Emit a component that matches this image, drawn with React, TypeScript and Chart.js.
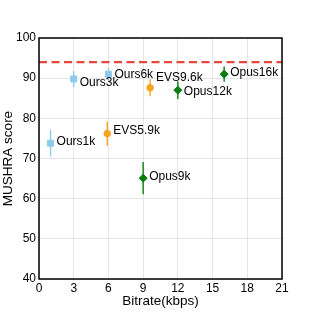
import React, { useEffect, useRef } from "react";
import { Chart, registerables } from "chart.js";

Chart.register(...registerables);

const oursX = [1, 3, 6];
const oursY = [73.8, 89.8, 91.0];
const oursErr = [3.3, 2.0, 1.6];
const oursLabels = ["Ours1k", "Ours3k", "Ours6k"];

const evsX = [5.9, 9.6];
const evsY = [76.2, 87.6];
const evsErr = [3.0, 2.1];
const evsLabels = ["EVS5.9k", "EVS9.6k"];

const opusX = [9, 12, 16];
const opusY = [65.1, 87.0, 91.0];
const opusErr = [4.0, 2.2, 1.9];
const opusLabels = ["Opus9k", "Opus12k", "Opus16k"];

const referenceY = 94;
const xTicks = [0, 3, 6, 9, 12, 15, 18, 21];
const yTicks = [40, 50, 60, 70, 80, 90, 100];

const FONT = "'Liberation Sans', Arial, sans-serif";

// label vertical nudges in pixels (style, not data)
const labelNudge: Record<string, number> = {
  Ours1k: -2,
  Ours3k: 4,
  Ours6k: 1,
  "EVS5.9k": -3,
  "EVS9.6k": -10,
  Opus9k: -1,
  Opus12k: 1,
  Opus16k: -1,
};

const errorBarPlugin = {
  id: "errorBars",
  afterDatasetsDraw(chart: any) {
    const ctx = chart.ctx;
    const xs = chart.scales.x;
    const ys = chart.scales.y;
    chart.data.datasets.forEach((ds: any) => {
      if (!ds.errors) return;
      ctx.save();
      ctx.strokeStyle = ds.backgroundColor;
      ctx.lineWidth = 1.4;
      ds.data.forEach((p: any, i: number) => {
        const e = ds.errors[i];
        const px = xs.getPixelForValue(p.x);
        ctx.beginPath();
        ctx.moveTo(px, ys.getPixelForValue(p.y + e));
        ctx.lineTo(px, ys.getPixelForValue(p.y - e));
        ctx.stroke();
      });
      ctx.restore();
    });
  },
};

const labelPlugin = {
  id: "pointLabels",
  afterDraw(chart: any) {
    const ctx = chart.ctx;
    const xs = chart.scales.x;
    const ys = chart.scales.y;
    ctx.save();
    ctx.fillStyle = "#000";
    ctx.font = `12px ${FONT}`;
    ctx.textBaseline = "middle";
    ctx.textAlign = "left";
    chart.data.datasets.forEach((ds: any) => {
      if (!ds.labels) return;
      ds.data.forEach((p: any, i: number) => {
        const lbl = ds.labels[i];
        const px = xs.getPixelForValue(p.x) + 6;
        const py = ys.getPixelForValue(p.y) + (labelNudge[lbl] || 0);
        ctx.fillText(lbl, px, py);
      });
    });
    ctx.restore();
  },
};

const framePlugin = {
  id: "frame",
  afterDraw(chart: any) {
    const { ctx, chartArea } = chart;
    ctx.save();
    ctx.strokeStyle = "#000";
    ctx.lineWidth = 1.5;
    ctx.strokeRect(
      chartArea.left,
      chartArea.top,
      chartArea.right - chartArea.left,
      chartArea.bottom - chartArea.top
    );
    ctx.restore();
  },
};

function toPts(xs: number[], ys: number[]) {
  return xs.map((x, i) => ({ x, y: ys[i] }));
}

export default function App() {
  const ref = useRef<HTMLCanvasElement>(null);
  useEffect(() => {
    if (!ref.current) return;
    const chart = new Chart(ref.current, {
      type: "scatter",
      data: {
        datasets: [
          {
            label: "reference",
            data: [
              { x: 0, y: referenceY },
              { x: 21, y: referenceY },
            ],
            showLine: true,
            borderColor: "#e8473c",
            borderWidth: 2.2,
            borderDash: [8, 4.5],
            pointRadius: 0,
          } as any,
          {
            label: "Ours",
            data: toPts(oursX, oursY),
            backgroundColor: "#8ecaea",
            borderColor: "#8ecaea",
            pointStyle: "rect",
            pointRadius: 4.2,
            errors: oursErr,
            labels: oursLabels,
          } as any,
          {
            label: "EVS",
            data: toPts(evsX, evsY),
            backgroundColor: "#f5a623",
            borderColor: "#f5a623",
            pointStyle: "circle",
            pointRadius: 3.3,
            errors: evsErr,
            labels: evsLabels,
          } as any,
          {
            label: "Opus",
            data: toPts(opusX, opusY),
            backgroundColor: "#0a7d10",
            borderColor: "#0a7d10",
            pointStyle: "rectRot",
            pointRadius: 4,
            errors: opusErr,
            labels: opusLabels,
          } as any,
        ],
      },
      options: {
        animation: false,
        responsive: false,
        maintainAspectRatio: false,
        layout: { padding: { top: 38, right: 32, left: 0, bottom: 0 } },
        plugins: {
          legend: { display: false },
          tooltip: { enabled: false },
        },
        scales: {
          x: {
            type: "linear",
            min: 0,
            max: 21,
            afterBuildTicks: (s: any) => {
              s.ticks = xTicks.map((v) => ({ value: v }));
            },
            afterFit: (s: any) => {
              s.height = 35;
            },
            ticks: {
              color: "#000",
              font: { family: FONT, size: 12 },
              padding: 2,
              maxRotation: 0,
            },
            grid: { color: "#e6e6e6", lineWidth: 1, drawTicks: false },
            border: { display: false },
            title: {
              display: true,
              text: "Bitrate(kbps)",
              color: "#000",
              font: { family: FONT, size: 13.5 },
              padding: { top: 0, bottom: 5 },
            },
          },
          y: {
            type: "linear",
            min: 40,
            max: 100,
            afterBuildTicks: (s: any) => {
              s.ticks = yTicks.map((v) => ({ value: v }));
            },
            afterFit: (s: any) => {
              s.width = 39;
            },
            ticks: {
              color: "#000",
              font: { family: FONT, size: 12 },
              padding: 3,
            },
            grid: { color: "#e6e6e6", lineWidth: 1, drawTicks: false },
            border: { display: false },
            title: {
              display: true,
              text: "MUSHRA score",
              color: "#000",
              font: { family: FONT, size: 13.5 },
              padding: { top: 0, bottom: 2 },
            },
          },
        },
      } as any,
      plugins: [errorBarPlugin, labelPlugin, framePlugin],
    });
    return () => chart.destroy();
  }, []);
  return (
    <div style={{ position: "fixed", left: 0, top: 0, width: 314, height: 314, background: "#fff" }}>
      <canvas ref={ref} width={314} height={314} style={{ width: 314, height: 314 }} />
    </div>
  );
}
